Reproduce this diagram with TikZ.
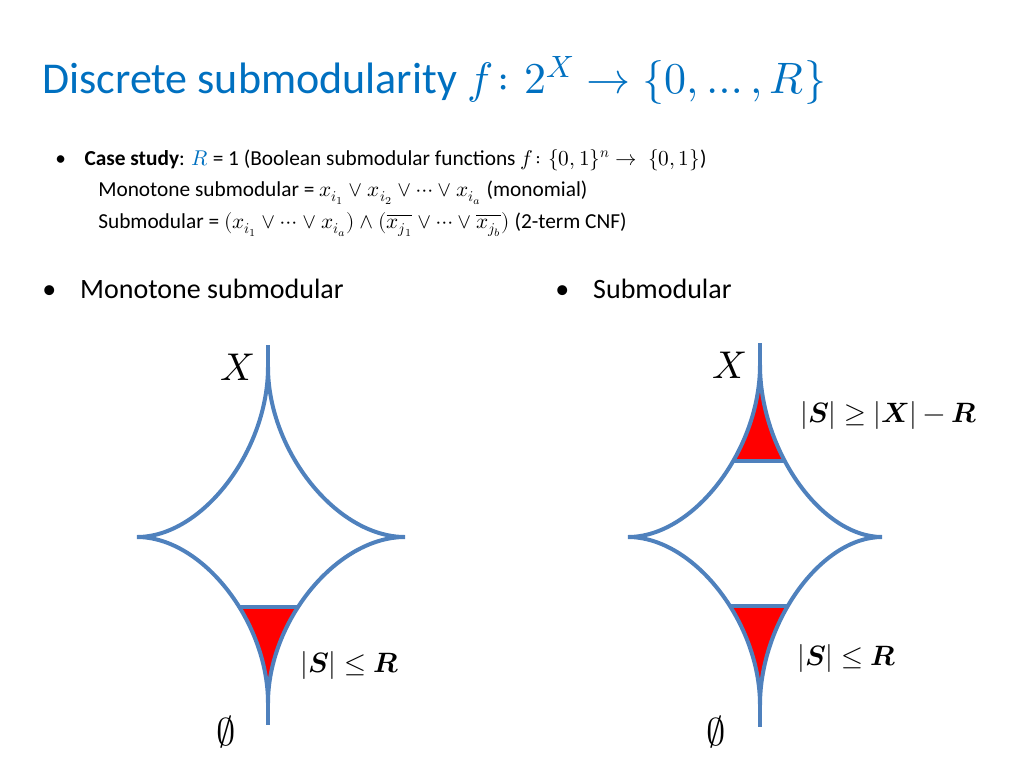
\documentclass[tikz,border=0pt]{standalone}
\usepackage{amsmath}
\usepackage{fontspec}
\usepackage{unicode-math}
\setmainfont{Carlito}
\setmathfont{Latin Modern Math}
\definecolor{ttl}{RGB}{0,112,192}
\definecolor{ln}{RGB}{79,129,189}
\begin{document}
\begin{tikzpicture}[x=0.75pt,y=-0.75pt,
  txt/.style={anchor=base west,inner sep=0pt},
  curve/.style={draw=ln,line width=3pt},
  lbl/.style={anchor=base west,inner sep=0pt,font=\fontsize{21}{24}\selectfont},
  big/.style={anchor=base west,inner sep=0pt,font=\fontsize{29}{32}\selectfont}]
\useasboundingbox (0,0) rectangle (1024,768);
\node[txt,text=ttl,font=\fontsize{33}{38}\selectfont] (title) at (42,93) {Discrete submodularity $f\colon 2^{X}\rightarrow\{0,\ldots,R\}$};
\node[txt,font=\fontsize{16}{19}\selectfont] (b1) at (55,165) {\textbullet\hspace{14pt}\textbf{Case study}: $\color{ttl}R$ = 1 (Boolean submodular functions $f\colon\{0,1\}^n\rightarrow\ \{0,1\}$)};
\node[txt,font=\fontsize{16}{19}\selectfont] (b2) at (98,196) {Monotone submodular = $x_{i_1}\vee x_{i_2}\vee\cdots\vee x_{i_a}$ (monomial)};
\node[txt,font=\fontsize{16}{19}\selectfont] (b3) at (98,228) {Submodular = $(x_{i_1}\vee\cdots\vee x_{i_a})\wedge(\overline{x_{j_1}}\vee\cdots\vee\overline{x_{j_b}})$ (2-term CNF)};
\node[txt,font=\fontsize{21}{25}\selectfont] (m1) at (42,298) {\textbullet\hspace{18pt}Monotone submodular};
\node[txt,font=\fontsize{21}{25}\selectfont] (m2) at (555,298) {\textbullet\hspace{18pt}Submodular};
% astroid macro: cx top bottom left right cy
\newcommand{\astroid}[6]{%
  (#1,{#2+22}) .. controls (#1,{#2+0.55*(#6-#2)}) and ({#4+0.5*(#1-#4)},#6) .. (#4,#6)
  .. controls ({#4+0.5*(#1-#4)},#6) and (#1,{#3-0.55*(#3-#6)}) .. (#1,{#3-22})
  .. controls (#1,{#3-0.55*(#3-#6)}) and ({#5-0.5*(#5-#1)},#6) .. (#5,#6)
  .. controls ({#5-0.5*(#5-#1)},#6) and (#1,{#2+0.55*(#6-#2)}) .. (#1,{#2+22}) -- cycle}
% left
\begin{scope}
\clip \astroid{268}{345}{725}{137}{405}{537};
\fill[red] (200,607) rectangle (340,730);
\draw[ln,line width=3pt] (200,607) -- (340,607);
\end{scope}
\draw[curve] \astroid{268}{345}{725}{137}{405}{537};
\draw[curve] (268,345) -- (268,368) (268,702) -- (268,725);
\node[big] (lx) at (220,380) {$X$};
\node[big] (le) at (216,745) {$\emptyset$};
\node[lbl] (lr) at (300,672) {$\symbfit{|S|\leq R}$};
% right
\begin{scope}
\clip \astroid{760}{343}{727}{628}{882}{537};
\fill[red] (700,340) rectangle (830,461);
\draw[ln,line width=3pt] (700,461) -- (830,461);
\fill[red] (700,606) rectangle (830,730);
\draw[ln,line width=3pt] (700,606) -- (830,606);
\end{scope}
\draw[curve] \astroid{760}{343}{727}{628}{882}{537};
\draw[curve] (760,343) -- (760,366) (760,704) -- (760,727);
\node[big] (rx) at (712,378) {$X$};
\node[big] (re) at (706,745) {$\emptyset$};
\node[lbl] (rr1) at (800,422) {$\symbfit{|S|\geq |X|-R}$};
\node[lbl] (rr2) at (797,665) {$\symbfit{|S|\leq R}$};
\end{tikzpicture}
\end{document}
